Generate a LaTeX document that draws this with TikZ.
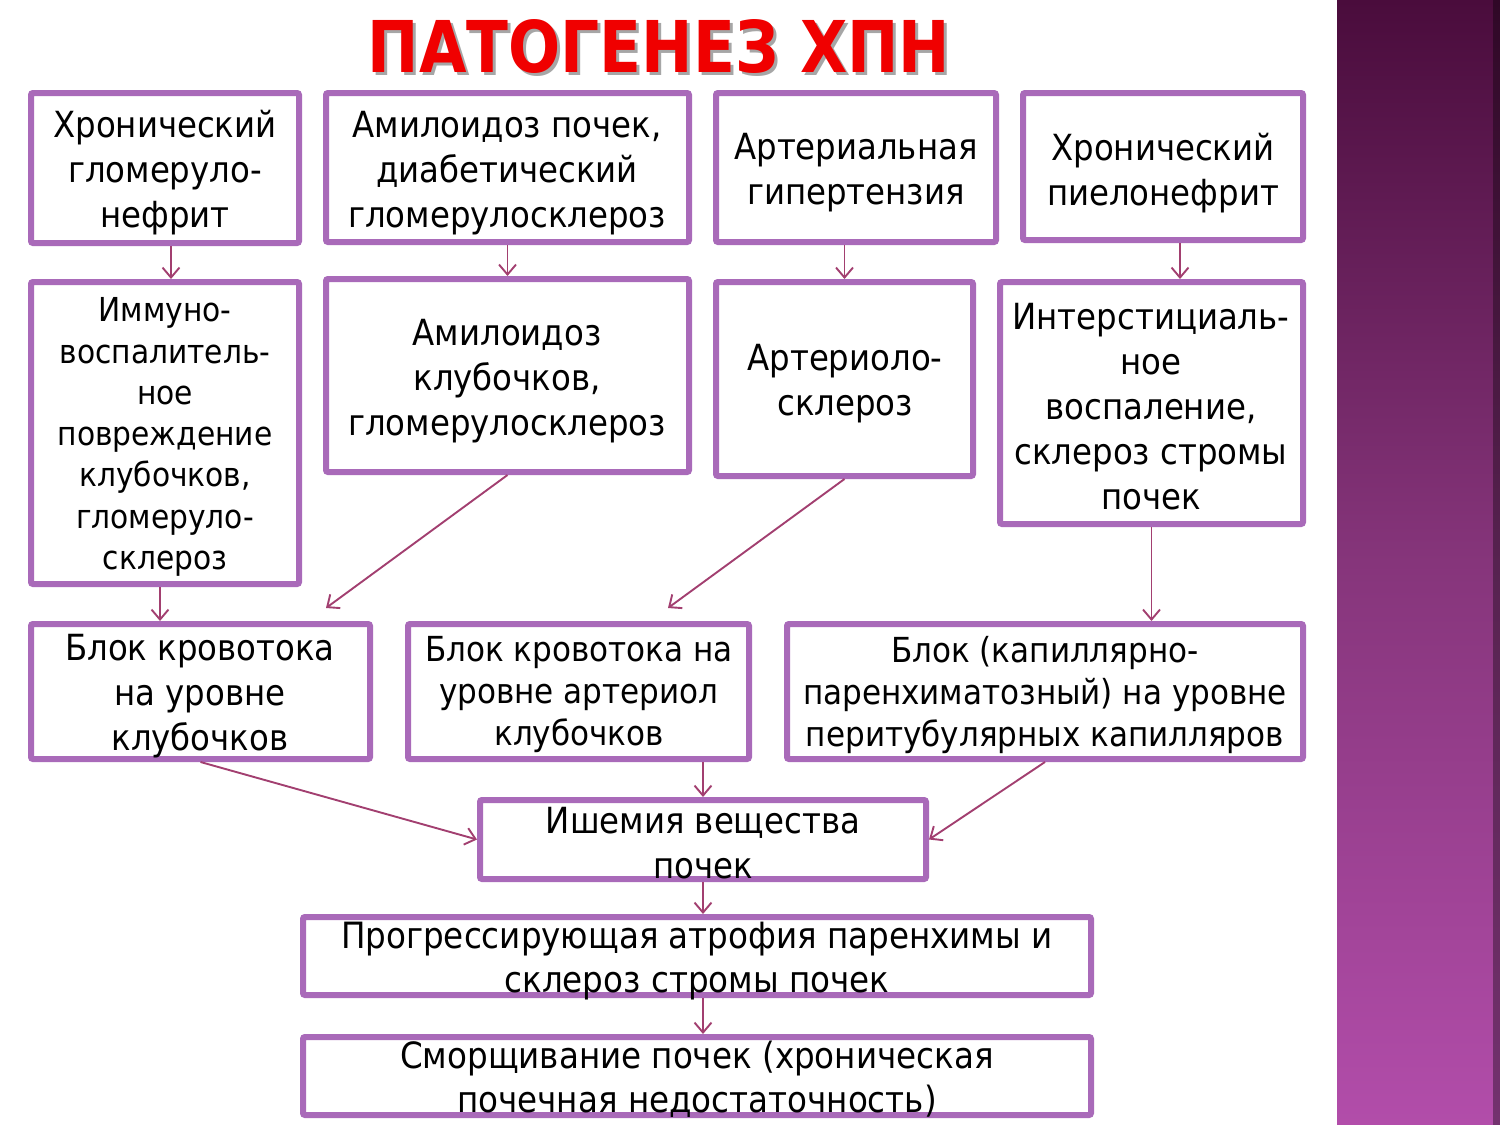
\documentclass[tikz,border=0pt]{standalone}
\usepackage{fontspec}
\usetikzlibrary{arrows.meta}
\setmainfont{DejaVu Sans Condensed}
\newfontfamily\titlefont{DejaVu Sans}
\definecolor{boxc}{HTML}{A96AB9}
\definecolor{arrc}{HTML}{A23F70}
\definecolor{titred}{HTML}{F00000}
\definecolor{bandtop}{HTML}{4A0C3C}
\definecolor{bandmid}{HTML}{86357B}
\definecolor{bandbot}{HTML}{B24DAA}
\newcommand\titletext{\titlefont\bfseries\resizebox{582pt}{53pt}{ПАТОГЕНЕЗ ХПН}}
\tikzset{
  box/.style={draw=boxc, line width=6pt, rounded corners=2pt, inner sep=0pt, fill=white},
  txt/.style={align=center, inner sep=0pt, font=\fontsize{36}{45}\selectfont},
  txtsm/.style={align=center, inner sep=0pt, font=\fontsize{33}{41.3}\selectfont},
  txtmd/.style={align=center, inner sep=0pt, font=\fontsize{34.5}{42}\selectfont},
  txtlg/.style={align=center, inner sep=0pt, font=\fontsize{36.2}{44}\selectfont},
  arr/.style={draw=arrc, line width=1.9pt, -{Straight Barb[length=10pt,width=17pt]}}
}
\begin{document}
\begin{tikzpicture}[x=1pt,y=-1pt]
\useasboundingbox (0,0) rectangle (1500,1125);
% right band
\shade[top color=bandtop, bottom color=bandbot, middle color=bandmid] (1337,0) rectangle (1500,1125);
\fill[black, opacity=0.35] (1493,0) rectangle (1500,1125);
% title (with drop shadow in the same node)
\node[inner sep=0pt] (title) at (659,48) {\rlap{\hspace*{3pt}\raisebox{-3pt}{\color{gray!70}\titletext}}{\color{titred}\titletext}};
% row 1
\node[box, minimum width=268pt, minimum height=150pt] (B1) at (165,168) {};
\node[box, minimum width=363pt, minimum height=149pt] (B2) at (507.5,167.5) {};
\node[box, minimum width=280pt, minimum height=149pt] (B3) at (856,167.5) {};
\node[box, minimum width=280pt, minimum height=147pt] (B4) at (1163,166.5) {};
% row 2
\node[box, minimum width=268pt, minimum height=302pt] (C1) at (165,433) {};
\node[box, minimum width=363pt, minimum height=193pt] (C2) at (507.5,375.5) {};
\node[box, minimum width=257pt, minimum height=194pt] (C3) at (844.5,379) {};
\node[box, minimum width=303pt, minimum height=242pt] (C4) at (1151.5,403) {};
% row 3
\node[box, minimum width=339pt, minimum height=135pt] (D1) at (200.5,691.5) {};
\node[box, minimum width=341pt, minimum height=135pt] (D2) at (578.5,691.5) {};
\node[box, minimum width=516pt, minimum height=135pt] (D3) at (1045,691.5) {};
% lower
\node[box, minimum width=446pt, minimum height=79pt] (E) at (703,839.5) {};
\node[box, minimum width=788pt, minimum height=78pt] (F) at (697,956) {};
\node[box, minimum width=788pt, minimum height=78pt] (G) at (697,1076) {};
% texts
\node[txt] (tB1) at (165,173) {Хронический\\гломеруло-\\нефрит};
\node[txt] (tB2) at (507,173) {Амилоидоз почек,\\диабетический\\гломерулосклероз};
\node[txt] (tB3) at (856,173) {Артериальная\\гипертензия};
\node[txt] (tB4) at (1163,173) {Хронический\\пиелонефрит};
\node[txtsm] (tC1) at (165,437) {Иммуно-\\воспалитель-\\ное\\повреждение\\клубочков,\\гломеруло-\\склероз};
\node[txt] (tC2) at (507,381) {Амилоидоз\\клубочков,\\гломерулосклероз};
\node[txt] (tC3) at (845,384) {Артериоло-\\склероз};
\node[txt] (tC4) at (1151,407) {Интерстициаль-\\ное\\воспаление,\\склероз стромы\\почек};
\node[txt] (tD1) at (200,696) {Блок кровотока\\на уровне\\клубочков};
\node[txtmd] (tD2) at (579,695) {Блок кровотока на\\уровне артериол\\клубочков};
\node[txtmd] (tD3) at (1045,695) {Блок (капиллярно-\\паренхиматозный) на уровне\\перитубулярных капилляров};
\node[txt] (tE) at (703,843) {Ишемия вещества\\почек};
\node[txtlg] (tF) at (697,961) {Прогрессирующая атрофия паренхимы и\\склероз стромы почек};
\node[txtlg] (tG) at (697,1079) {Сморщивание почек (хроническая\\почечная недостаточность)};
% connectors
\coordinate (c2end) at (326,608);
\coordinate (c3end) at (668,608);
\draw[arr] ([xshift=6pt]B1.south) -- ([xshift=6pt]C1.north);
\draw[arr] (B2.south) -- (C2.north);
\draw[arr] (C3.north |- B3.south) -- (C3.north);
\draw[arr] ([xshift=17pt]B4.south) -- ([xshift=17pt]B4.south |- C4.north);
\draw[arr] ([xshift=-5pt]C1.south) -- ([xshift=-5pt]C1.south |- D1.north);
\draw[arr] (C2.south) -- (c2end);
\draw[arr] (C3.south) -- (c3end);
\draw[arr] (C4.south) -- (C4.south |- D3.north);
\draw[arr] (D1.south) -- (E.west);
\draw[arr] (E.north |- D2.south) -- (E.north);
\draw[arr] (D3.south) -- (E.east);
\draw[arr] (E.south) -- (E.south |- F.north);
\draw[arr] (E.south |- F.south) -- (E.south |- G.north);
\end{tikzpicture}
\end{document}
